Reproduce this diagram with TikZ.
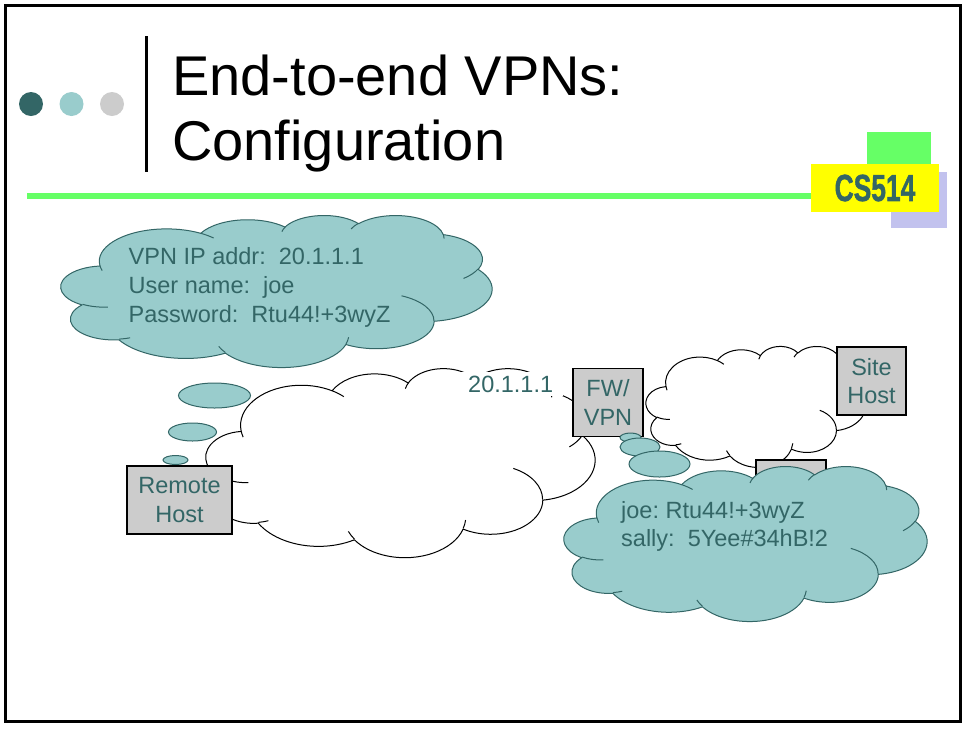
\documentclass[tikz,border=0pt]{standalone}
\usepackage{fontspec}
\setmainfont{Liberation Sans}
\frenchspacing
\definecolor{tealdark}{RGB}{51,102,102}
\definecolor{teallight}{RGB}{153,204,204}
\definecolor{boxgray}{RGB}{204,204,204}
\definecolor{bargreen}{RGB}{102,255,102}
\definecolor{logoyellow}{RGB}{255,255,0}
\definecolor{lavender}{RGB}{194,194,238}

% Cloud outline in a 432 x 432 box (preset cloud geometry, visual angles).
% #1,#2 top-left corner, #3 width, #4 height, #5 fill, #6 outline
\newcommand\pptcloud[6]{%
\begin{scope}[shift={(#1,#2)}, xscale=#3/432, yscale=#4/432]
  \filldraw[fill=#5, draw=#6, cloudline]
    (39.00,143.70)
    arc[ooarc={67.53}{91.90}{-190.4875}{123.7805}]
    arc[ooarc={53.33}{72.67}{-144.1024}{89.9452}]
    arc[ooarc={43.65}{59.45}{-145.8079}{99.7230}]
    arc[ooarc={48.57}{65.95}{-130.9861}{117.2417}]
    arc[ooarc={53.33}{72.73}{-78.7089}{109.0269}]
    arc[ooarc={67.75}{92.20}{-46.2673}{130.2690}]
    arc[ooarc={57.85}{78.67}{0.6250}{114.0333}]
    arc[ooarc={67.52}{92.15}{22.4516}{115.1726}]
    arc[ooarc={77.20}{105.43}{66.2426}{75.7110}]
    arc[ooarc={43.60}{59.18}{-274.9421}{146.7356}]
    arc[ooarc={43.45}{59.45}{-246.8285}{152.5189}]
    -- cycle;
  \draw[draw=#6, cloudline]
    (46.93,261.77) arc[ooarc={43.45}{59.45}{86.7420}{26.4295}]
    (69.28,348.99) arc[ooarc={43.60}{59.18}{73.6105}{11.4475}]
    (164.78,390.90) arc[ooarc={67.52}{92.15}{137.6242}{14.0811}]
    (288.27,347.51) arc[ooarc={67.52}{92.15}{6.4533}{15.9984}]
    (341.29,229.54) arc[ooarc={57.85}{78.67}{-70.2924}{70.9174}]
    (417.98,153.54) arc[ooarc={53.33}{72.73}{30.3180}{27.7515}]
    (383.24,54.26) arc[ooarc={48.57}{65.95}{-13.7443}{14.8589}]
    (290.78,39.52) arc[ooarc={48.57}{65.95}{-149.1815}{18.1954}]
    (221.41,47.20) arc[ooarc={43.65}{59.45}{-163.4943}{17.6864}]
    (140.00,51.92) arc[ooarc={67.53}{91.90}{-66.7070}{12.3194}]
    (41.27,157.89) arc[ooarc={67.53}{91.90}{157.6544}{11.8582}];
\end{scope}}

\begin{document}
\begin{tikzpicture}[
  x=1pt, y=-1pt,
  declare function={
    vpa(\rx,\ry,\a)=atan2(\rx*sin(\a),\ry*cos(\a));
    vdelta(\rx,\ry,\a,\s)=mod(vpa(\rx,\ry,\a+\s)-vpa(\rx,\ry,\a)+720,360);
  },
  ooarc/.style n args={4}{x radius=#1, y radius=#2,
    start angle={vpa(#1,#2,#3)}, delta angle={vdelta(#1,#2,#3,#4)}},
  cloudline/.style={line width=1pt, line join=round},
  bodytext/.style={font=\fontsize{23.5}{28.5}\selectfont, text=tealdark, inner sep=0pt},
  linetext/.style={bodytext, anchor=base west},
  hostbox/.style={bodytext, draw=black, fill=boxgray, line width=1.2pt,
    align=center, minimum width=#1, minimum height=68},
  bubble/.style={fill=teallight, draw=tealdark, line width=1pt},
  titletext/.style={anchor=base west, inner sep=0pt, font=\fontsize{56}{60}\selectfont},
]
\useasboundingbox (0,0) rectangle (965,729);
\fill[white] (0,0) rectangle (965,729);
\draw[line width=3pt] (5,5) rectangle (960.5,721);

% header
\fill[tealdark]  (31,104) circle [radius=12];
\fill[teallight] (71.5,104) circle [radius=12];
\fill[boxgray]   (112,104) circle [radius=12];
\draw[line width=3pt] (146.5,36) -- (146.5,172);
\node[titletext] (title1) at (172,95) {End-to-end VPNs:};
\node[titletext] (title2) at (172,160) {Configuration};
\draw[bargreen, line width=6pt] (27,196) -- (815,196);

% course badge
\fill[bargreen] (867,132) rectangle (931,166);
\fill[lavender] (891,172) rectangle (947,228);
\fill[logoyellow] (811,164) rectangle (939,212);
\node[font=\bfseries\fontsize{37.7}{40}\selectfont\addfontfeature{FakeBold=1.5},
      text=tealdark, xscale=0.7, inner sep=0pt] (badge) at (875,188) {CS514};

% left network
\pptcloud{206}{368}{389}{189}{white}{black}
\pptcloud{61}{215}{431}{152}{teallight}{tealdark}
\draw[bubble] (214.5,395.5) ellipse [x radius=36, y radius=12.5];
\draw[bubble] (192.5,432) ellipse [x radius=24, y radius=9];
\draw[bubble] (175.5,460) ellipse [x radius=12.5, y radius=4.5];
\node[hostbox=105] (remote) at (179.5,500) {Remote\\Host};
\node[linetext, fill=white, inner xsep=10pt, inner ysep=4pt] (vpnaddr) at (458,392) {20.1.1.1};

% site network
\pptcloud{646}{346}{220}{121}{white}{black}
\node[hostbox=69] (site) at (871.5,381) {Site\\Host};
\node[hostbox=70] (fw) at (608,402.5) {FW/\\VPN};
\node[hostbox=70] (inner) at (791,494) {};
\draw[bubble] (630.5,437.5) ellipse [x radius=10.5, y radius=4.5];
\draw[bubble] (640,447) ellipse [x radius=20, y radius=9];
\draw[bubble] (659.5,464) ellipse [x radius=30.5, y radius=13];
\pptcloud{564}{466}{363}{155}{teallight}{tealdark}

% credentials
\node[linetext] (cfg1) at (128.5,264.5) {VPN IP addr:~ 20.1.1.1};
\node[linetext] (cfg2) at (128.5,293.3) {User name:~ joe};
\node[linetext] (cfg3) at (128.5,322) {Password:~ Rtu44!+3wyZ};
\node[linetext] (acct1) at (621,518.3) {joe: Rtu44!+3wyZ};
\node[linetext] (acct2) at (621,546.5) {sally:~ 5Yee\#34hB!2};
\end{tikzpicture}
\end{document}
